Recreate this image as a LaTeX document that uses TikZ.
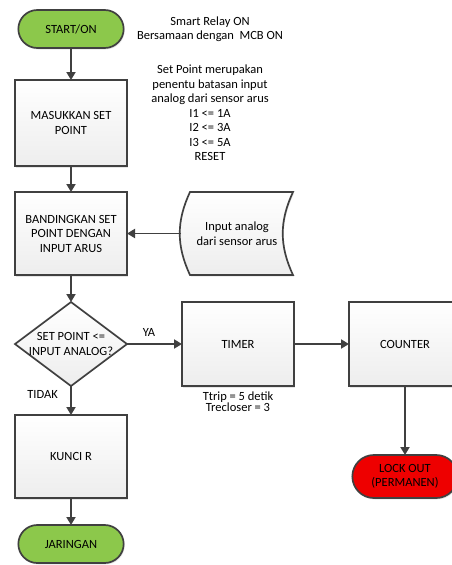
\documentclass[tikz,border=0pt]{standalone}
\usepackage{fontspec}
\setmainfont{Carlito}
\usepackage{tikz}
\definecolor{edgegray}{HTML}{404040}
\definecolor{startgreen}{HTML}{8CC84B}
\definecolor{lockred}{HTML}{EE0000}
\tikzset{
    terminal/.style={draw=edgegray, line width=1.7pt, rounded rectangle,
        minimum width=112pt, minimum height=38pt, align=center, outer sep=0pt,
        drop shadow={shadow xshift=1pt, shadow yshift=-1.5pt, opacity=0.2}},
    startstop/.style={terminal, fill=startgreen},
    lockbox/.style={terminal, fill=lockred, minimum height=43pt},
    process/.style={draw=edgegray, line width=1.7pt, top color=white,
        bottom color=gray!14, minimum width=112pt, minimum height=84pt,
        align=center, outer sep=0pt,
        drop shadow={shadow xshift=1pt, shadow yshift=-1.5pt, opacity=0.2}},
    decision/.style={draw=edgegray, line width=1.7pt, diamond, inner sep=0pt,
        top color=white, bottom color=gray!14, minimum width=112pt,
        minimum height=84pt, outer sep=0pt},
    datain/.style={minimum width=112pt, minimum height=83pt, align=center,
        outer sep=0pt},
    note/.style={align=center},
    flow/.style={-{Triangle[width=9pt, length=8pt]}, draw=edgegray,
        line width=1.8pt} }
\usetikzlibrary{positioning, arrows.meta, shapes.geometric, shapes.misc,
    shadows, backgrounds}

\begin{document}
\begin{tikzpicture}[x=1pt, y=-1pt, font=\fontsize{12.5}{14.5}\selectfont]
      \useasboundingbox (0,0) rectangle (452,565);
      \node[startstop] (start) at (71,29) {START/ON};
      \node[process, below = 32pt of start, minimum height=86pt] (setpoint)
          {MASUKKAN SET\\POINT};
      \node[process, below = 26pt of setpoint, minimum height=83pt] (compare)
          {BANDINGKAN SET\\POINT DENGAN\\INPUT ARUS};
      \node[datain, right = 54pt of compare] (sensor)
          {Input analog\\dari sensor arus};
      \node[decision, below = 27pt of compare,
          label={[align=center]center:SET POINT <=\\INPUT ANALOG?}] (check) {};
      \node[process, below = 29pt of check, minimum height=83pt] (lock) {KUNCI R};
      \node[startstop, below = 27pt of lock] (net) {JARINGAN};
      \node[process, right = 55pt of check] (timer) {TIMER};
      \node[process, right = 55pt of timer] (counter) {COUNTER};
      \node[lockbox, below = 69pt of counter] (lockout) {LOCK OUT\\(PERMANEN)};
      % ----
      \node[note] (relaynote) at (210,29) {Smart Relay ON\\Bersamaan dengan \ MCB ON};
      \node[note] (spnote) at (210,113)
          {Set Point merupakan\\penentu batasan input\\analog dari sensor arus\\
           I1 <= 1A\\I2 <= 3A\\I3 <= 5A\\RESET};
      \node[note, font=\fontsize{12.5}{11.5}\selectfont, below = 2pt of timer]
          (timenote) {Ttrip = 5 detik\\Trecloser = 3};
      % ----
      \begin{scope}[on background layer]
        \path[draw=edgegray, line width=1.7pt, top color=white,
            bottom color=gray!14,
            drop shadow={shadow xshift=1pt, shadow yshift=-1.5pt, opacity=0.2}]
            ([xshift=9pt]sensor.north west) -- (sensor.north east)
            to[bend right=25] (sensor.south east) --
            ([xshift=9pt]sensor.south west)
            to[bend left=25] ([xshift=9pt]sensor.north west) -- cycle;
      \end{scope}
      % ----
      \draw[flow] (start) -- (setpoint);
      \draw[flow] (setpoint) -- (compare);
      \draw[flow] (sensor) -- (compare);
      \draw[flow] (compare) -- (check);
      \draw[flow] (check) -- node[note, above=3pt, pos=0.4] {YA} (timer);
      \draw[flow] (check) -- node[note, left, pos=0.3, xshift=-9pt] {TIDAK} (lock);
      \draw[flow] (lock) -- (net);
      \draw[flow] (timer) -- (counter);
      \draw[flow] (counter) -- (lockout);
    \end{tikzpicture}
\end{document}
